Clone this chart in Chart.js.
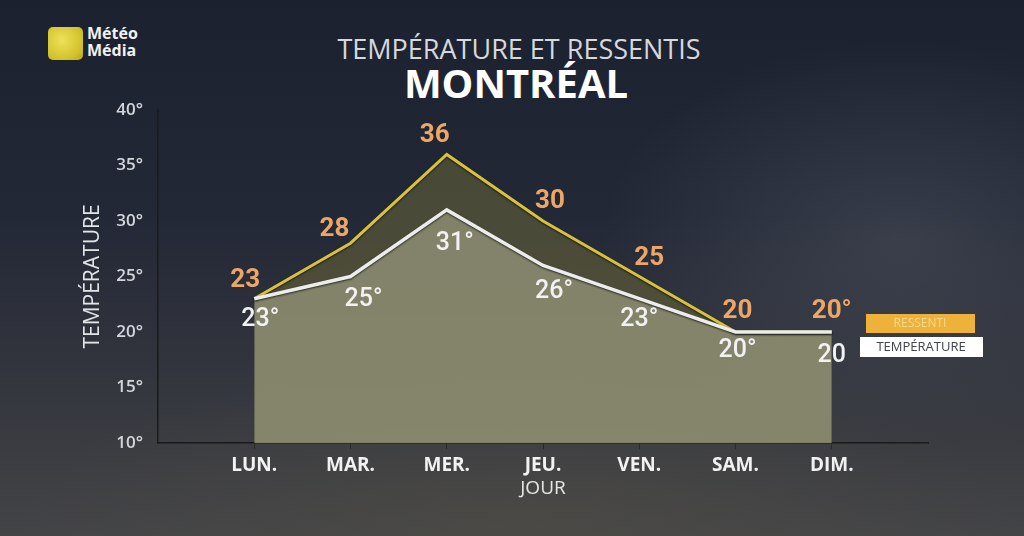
<!DOCTYPE html>
<html>
<head>
<meta charset="utf-8">
<script src="https://cdn.jsdelivr.net/npm/chart.js@4/dist/chart.umd.min.js"></script>
<style>
  html, body { margin: 0; padding: 0; }
  body {
    width: 1024px; height: 536px; overflow: hidden; position: relative;
    background:
      radial-gradient(ellipse 300px 200px at 900px 240px, rgba(95,100,110,0.35), rgba(0,0,0,0)),
      radial-gradient(ellipse 500px 160px at 520px 520px, rgba(90,85,70,0.35), rgba(0,0,0,0)),
      linear-gradient(180deg, #1c2130 0%, #232837 40%, #30333c 65%, #434446 100%);
    font-family: "Open Sans", sans-serif;
  }
  #chart { position: absolute; left: 0; top: 0; }
  .logo { position: absolute; left: 48px; top: 27px; width: 35px; height: 33px; border-radius: 5px;
    background: radial-gradient(circle at 40% 40%, #eee25a, #d2c02a 70%, #b8a220); }
  .logo-text { position: absolute; left: 87px; top: 25px; color: #f2f2f2; font: bold 16px/17px "Open Sans", sans-serif; }
  .title1 { position: absolute; left: 519px; top: 30px; transform: translateX(-50%); white-space: nowrap;
    color: #d6d8dc; font: 27px "Open Sans", sans-serif; }
  .title2 { position: absolute; left: 516px; top: 55px; transform: translateX(-50%); white-space: nowrap;
    color: #ffffff; font: bold 40px "Open Sans", sans-serif; }
</style>
</head>
<body>
<div class="logo"></div>
<div class="logo-text">Météo<br>Média</div>
<div class="title1">TEMPÉRATURE ET RESSENTIS</div>
<div class="title2">MONTRÉAL</div>
<canvas id="chart" width="1024" height="536"></canvas>
<script>
const days = ['LUN.', 'MAR.', 'MER.', 'JEU.', 'VEN.', 'SAM.', 'DIM.'];
const ressenti = [23, 28, 36, 30, 25, 20, 20];
const temperature = [23, 25, 31, 26, 23, 20, 20];
const ressentiLabels = ['23', '28', '36', '30', '25', '20', '20°'];
const temperatureLabels = ['23°', '25°', '31°', '26°', '23°', '20°', '20'];
const yTicks = [10, 15, 20, 25, 30, 35, 40];

// label placement next to each point
const ressentiOffsets = [[-9, -18], [-16, -14], [-12, -19], [7, -20], [10, -18], [2, -21], [0, -21]];
const temperatureOffsets = [[6, 21], [13, 23], [8, 34], [11, 26], [0, 21], [2, 19], [0, 24]];

// one empty slot on each side of the week
const labels = [''].concat(days, ['']);
const pad = arr => [null].concat(arr, [null]);

const lineShadow = {
  id: 'lineShadow',
  beforeDatasetDraw(chart) {
    const ctx = chart.ctx;
    ctx.save();
    ctx.shadowColor = 'rgba(0,0,0,0.7)';
    ctx.shadowBlur = 2;
    ctx.shadowOffsetY = 1;
  },
  afterDatasetDraw(chart) {
    chart.ctx.restore();
  }
};

const valueLabels = {
  id: 'valueLabels',
  afterDatasetsDraw(chart) {
    const ctx = chart.ctx;
    const sets = [
      { idx: 1, texts: ressentiLabels, offs: ressentiOffsets, color: '#eca766', font: 'bold 26px Roboto' },
      { idx: 0, texts: temperatureLabels, offs: temperatureOffsets, color: '#f2f2f2', font: '500 25px Roboto' }
    ];
    ctx.save();
    ctx.textAlign = 'center';
    ctx.textBaseline = 'middle';
    sets.forEach(s => {
      const meta = chart.getDatasetMeta(s.idx);
      s.texts.forEach((t, i) => {
        const el = meta.data[i + 1];
        ctx.font = s.font;
        ctx.fillStyle = s.color;
        ctx.fillText(t, el.x + s.offs[i][0], el.y + s.offs[i][1]);
      });
    });
    ctx.restore();
  }
};

const boxLegend = {
  id: 'boxLegend',
  afterDraw(chart) {
    const ctx = chart.ctx;
    ctx.save();
    ctx.fillStyle = '#eeb13a';
    ctx.fillRect(866, 314, 109, 19);
    ctx.fillStyle = '#f6d98a';
    ctx.font = '12px "Open Sans"';
    ctx.textAlign = 'center';
    ctx.textBaseline = 'middle';
    ctx.fillText('RESSENTI', 920, 324);
    ctx.fillStyle = '#ffffff';
    ctx.fillRect(860, 337, 123, 20);
    ctx.fillStyle = '#3e434c';
    ctx.font = '13px "Open Sans"';
    ctx.fillText('TEMPÉRATURE', 921, 347);
    ctx.restore();
  }
};

new Chart(document.getElementById('chart'), {
  type: 'line',
  data: {
    labels: labels,
    datasets: [
      {
        label: 'TEMPÉRATURE',
        data: pad(temperature),
        borderColor: '#ececec',
        borderWidth: 3.5,
        backgroundColor: 'rgba(146,146,114,0.86)',
        fill: 'start',
        pointRadius: 0,
        tension: 0
      },
      {
        label: 'RESSENTI',
        data: pad(ressenti),
        borderColor: '#d8c23a',
        borderWidth: 3,
        backgroundColor: 'rgba(100,97,56,0.6)',
        fill: 0,
        pointRadius: 0,
        tension: 0
      }
    ]
  },
  options: {
    responsive: false,
    animation: false,
    layout: { padding: { top: 110, right: 96, bottom: 36, left: 80 } },
    plugins: {
      legend: { display: false },
      tooltip: { enabled: false },
      filler: { drawTime: 'beforeDatasetsDraw' }
    },
    scales: {
      x: {
        afterFit: s => { s.height = 57; },
        grid: {
          drawOnChartArea: false,
          drawTicks: true,
          tickLength: 6,
          color: c => (c.index === 0 || c.index === labels.length - 1) ? 'rgba(0,0,0,0)' : '#2a2a2a'
        },
        border: { display: true, color: '#1a1a1a', width: 1.5 },
        ticks: { color: '#f2f2f2', padding: 5, font: { family: 'Open Sans', size: 19, weight: 'bold' } },
        title: { display: true, text: 'JOUR', color: '#e6e6e6', padding: 0, font: { family: 'Open Sans', size: 19 } }
      },
      y: {
        min: yTicks[0],
        max: yTicks[yTicks.length - 1],
        afterFit: s => { s.width = 78; },
        grid: { display: false },
        border: { display: true, color: '#1a1a1a', width: 1.5 },
        ticks: {
          stepSize: yTicks[1] - yTicks[0],
          padding: 7,
          color: '#d4d6dc',
          font: { family: 'Open Sans', size: 17, weight: '600' },
          callback: v => v + '°'
        },
        title: { display: true, text: 'TEMPÉRATURE', color: '#e2e4e8', padding: 0, font: { family: 'Open Sans', size: 21 } }
      }
    }
  },
  plugins: [lineShadow, valueLabels, boxLegend]
});
</script>
</body>
</html>
